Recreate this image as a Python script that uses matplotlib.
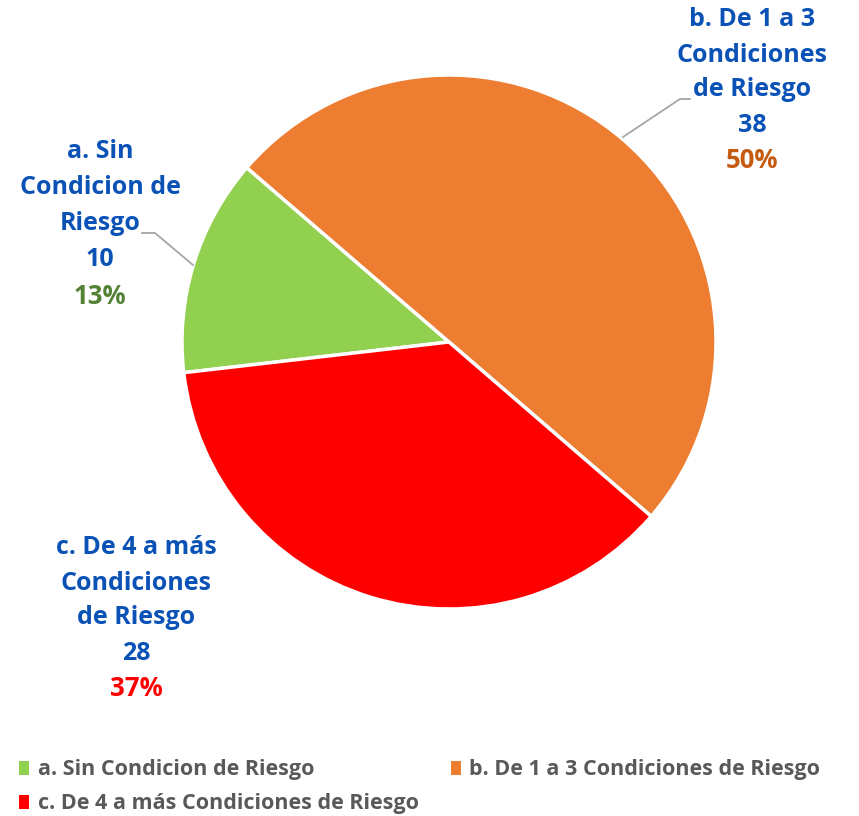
import matplotlib.pyplot as plt
from matplotlib.patches import Patch

# data
categorias = ["a. Sin Condicion de Riesgo",
              "b. De 1 a 3 Condiciones de Riesgo",
              "c. De 4 a más Condiciones de Riesgo"]
lineas = [["a. Sin", "Condicion de", "Riesgo"],
          ["b. De 1 a 3", "Condiciones", "de Riesgo"],
          ["c. De 4 a más", "Condiciones", "de Riesgo"]]
valores = [10, 38, 28]
colores = ["#92D050", "#ED7D31", "#FF0000"]
colores_pct = ["#548235", "#C55A11", "#FF0000"]

FAM = ["Open Sans", "DejaVu Sans"]

W, H = 859, 816
CX, CY, R = 449, 342, 267

fig = plt.figure(figsize=(W / 100, H / 100), dpi=100)
ax = fig.add_axes([(CX - R) / W, (H - CY - R) / H, 2 * R / W, 2 * R / H])

wedges, _ = ax.pie(valores, colors=colores, startangle=186.6, counterclock=False,
                   radius=1, wedgeprops=dict(edgecolor="white", linewidth=2.5))
ax.set_xlim(-1, 1)
ax.set_ylim(-1, 1)
ax.axis("off")


def px(x, y):
    return (x - CX) / R, (CY - y) / R


# label positions (pixels), centre x, first line y, pitch
pos = [(100, 152, 36), (752, 20, 35), (136, 548, 35)]
total = sum(valores)
for i, (x, y0, step) in enumerate(pos):
    rows = lineas[i] + [str(valores[i])]
    for j, t in enumerate(rows):
        ax.text(*px(x, y0 + j * step), t, ha="center", va="center",
                fontsize=18, fontweight="bold", color="#0A52B5", family=FAM)
    pct = f"{round(100 * valores[i] / total)}%"
    ax.text(*px(x, y0 + len(rows) * step), pct, ha="center", va="center",
            fontsize=18.5, fontweight="bold", color=colores_pct[i], family=FAM)

# leader lines
for pts in ([(193, 265), (155, 233), (142, 233)], [(623, 137), (680, 99), (690, 99)]):
    xs, ys = zip(*[px(a, b) for a, b in pts])
    ax.plot(xs, ys, color="#A6A6A6", lw=1.3, clip_on=False)

# legend
orden = [0, 2, 1]
handles = [Patch(facecolor=colores[k], label=categorias[k]) for k in orden]
fig.legend(handles=handles, ncol=2, loc="upper left", bbox_to_anchor=(0.0, 0.093),
           frameon=False, handlelength=0.45, handleheight=0.6, handletextpad=0.4,
           columnspacing=1.5, labelspacing=0.6,
           prop=dict(family=FAM, weight="bold", size=15.5), labelcolor="#595959")

fig.savefig("out.png", dpi=100)
